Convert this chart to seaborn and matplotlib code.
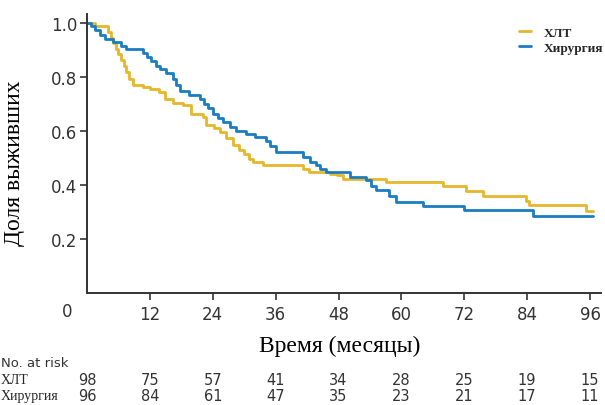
import pandas as pd
import numpy as np
import matplotlib
matplotlib.use('Agg')
import matplotlib.pyplot as plt
import seaborn as sns

# Kaplan-Meier steps (months, survival)
t_hlt = [0, 1.5, 4.0, 4.5, 5.0, 5.5, 6.0, 6.5, 7.0, 7.5, 8.0, 8.7, 10.6, 12.0, 13.8, 14.8,
         16.4, 18.3, 19.9, 22.1, 22.7, 24.2, 25.3, 26.5, 27.8, 29.0, 30.0, 31.0, 31.6, 33.5,
         41.2, 42.3, 46.3, 47.8, 48.8, 57.1, 67.9, 72.4, 75.5, 83.8, 84.4, 95.3, 96.5]
s_hlt = [1.0, 0.99, 0.967, 0.945, 0.925, 0.905, 0.885, 0.865, 0.843, 0.82, 0.794, 0.771, 0.763,
         0.757, 0.745, 0.72, 0.703, 0.695, 0.664, 0.652, 0.621, 0.61, 0.596, 0.575, 0.547, 0.53,
         0.515, 0.495, 0.485, 0.473, 0.46, 0.448, 0.442, 0.436, 0.423, 0.411, 0.396, 0.378, 0.359,
         0.34, 0.325, 0.304, 0.304]

t_sur = [0, 0.8, 1.5, 2.4, 3.5, 5.0, 6.5, 7.5, 10.7, 11.5, 12.3, 13.2, 14.0, 15.0, 16.4, 17.0,
         17.7, 19.5, 21.5, 22.3, 23.0, 24.0, 25.0, 26.0, 27.2, 28.5, 30.4, 32.0, 34.2, 35.0,
         36.1, 41.2, 42.5, 43.7, 44.4, 45.6, 50.1, 53.3, 54.2, 55.2, 57.7, 59.0, 64.1, 72.0,
         85.1, 96.5]
s_sur = [1.0, 0.99, 0.975, 0.955, 0.942, 0.93, 0.915, 0.905, 0.89, 0.875, 0.86, 0.843, 0.83,
         0.815, 0.794, 0.77, 0.75, 0.735, 0.72, 0.70, 0.685, 0.664, 0.65, 0.635, 0.615, 0.60,
         0.59, 0.578, 0.565, 0.545, 0.522, 0.505, 0.485, 0.473, 0.46, 0.448, 0.43, 0.417, 0.398,
         0.38, 0.361, 0.337, 0.322, 0.306, 0.287, 0.287]

arms = ['ХЛТ', 'Хирургия']
colors = ['#E5B72B', '#1A7DC0']
risk_months = [0, 12, 24, 36, 48, 60, 72, 84, 96]
risk_hlt = [98, 75, 57, 41, 34, 28, 25, 19, 15]
risk_sur = [96, 84, 61, 47, 35, 23, 21, 17, 11]

df = pd.concat([
    pd.DataFrame({'month': t_hlt, 'surv': s_hlt, 'arm': arms[0]}),
    pd.DataFrame({'month': t_sur, 'surv': s_sur, 'arm': arms[1]}),
])

sns.set_style('ticks')
serif = 'Liberation Serif'
sans = 'DejaVu Sans'
plt.rcParams['font.family'] = sans

fig = plt.figure(figsize=(6.05, 4.06), dpi=100)
ax = fig.add_axes([87 / 605, 1 - 294 / 406, 513.5 / 605, 279 / 406])

sns.lineplot(data=df, x='month', y='surv', hue='arm', palette=dict(zip(arms, colors)),
             estimator=None, sort=False, drawstyle='steps-post', linewidth=2, ax=ax)

ax.set_xlim(0, 98)
ax.set_ylim(0, 1.034)
ax.set_xticks(risk_months[1:])
ax.set_yticks([0.2, 0.4, 0.6, 0.8, 1.0])
ax.set_yticklabels(['0.2', '0.4', '0.6', '0.8', '1.0'])
sns.despine(ax=ax)
for sp in ['left', 'bottom']:
    ax.spines[sp].set_color('#333333')
    ax.spines[sp].set_linewidth(1.4)
ax.tick_params(axis='both', colors='#333333', labelsize=12, length=5, width=1.2, pad=4)
ax.tick_params(axis='y', pad=2)
for lab in ax.get_xticklabels() + ax.get_yticklabels():
    lab.set_color('#333333')

ax.set_xlabel('Время (месяцы)', family=serif, fontsize=17, color='black')
ax.set_ylabel('Доля выживших', family=serif, fontsize=17, color='black')
ax.xaxis.set_label_coords((340 - 87) / 513.5, -(336 - 294) / 279)
ax.yaxis.set_label_coords(-(87 - 25) / 513.5, (294 - 163) / 279)

# lone zero at the corner
fig.text(67.5 / 605, 1 - 312 / 406, '0', ha='center', va='center', fontsize=12,
         color='#333333', family=sans)

ax.legend(loc='upper left', bbox_to_anchor=(507 / 605, 1 - 16 / 406),
          bbox_transform=fig.transFigure, frameon=False, handlelength=0.9,
          handletextpad=1.0, labelspacing=0.2,
          prop={'family': serif, 'weight': 'bold', 'size': 9.5})

# number at risk table
fig.text(1 / 605, 1 - 364 / 406, 'No. at risk', ha='left', va='center', fontsize=9.5,
         color='#333333', family=sans)
for row_y, name, vals in [(381, arms[0], risk_hlt), (397, arms[1], risk_sur)]:
    fig.text(1 / 605, 1 - row_y / 406, name, ha='left', va='center', fontsize=10,
             family=serif)
    for m, v in zip(risk_months, vals):
        x_px = 87 + m * 5.24
        fig.text(x_px / 605, 1 - row_y / 406, str(v), ha='center', va='center', fontsize=10.5,
                 color='#333333', family=sans)

fig.savefig('out.png', dpi=100)
